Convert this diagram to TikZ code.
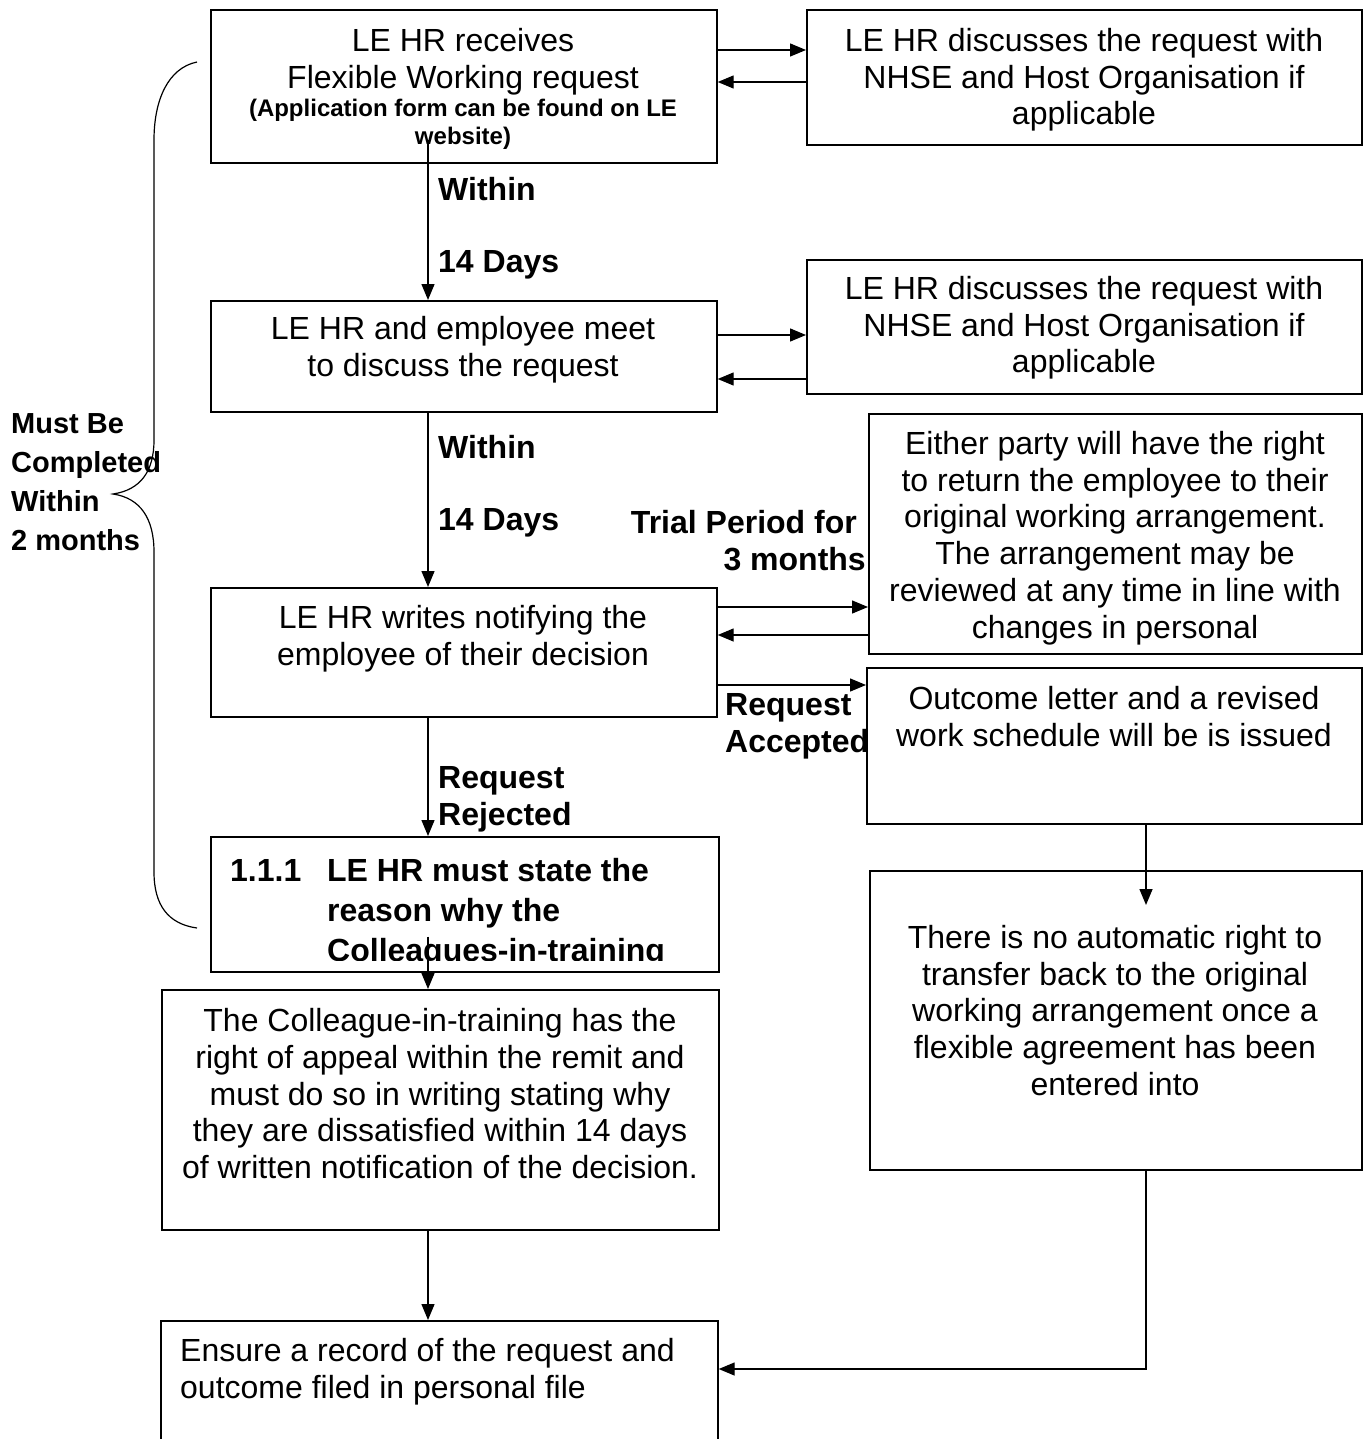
\documentclass[tikz,border=0pt]{standalone}
\usepackage{fontspec}
\setmainfont{Liberation Sans}
\usetikzlibrary{arrows.meta,calc}
\begin{document}
\begin{tikzpicture}[x=1pt,y=-1pt,
 box/.style={draw, line width=1.7pt, inner sep=0, anchor=north west},
 arr/.style={line width=1.4pt, -{Triangle[length=16pt,width=13pt]}},
 txt/.style={inner sep=0, align=center, font=\fontsize{32}{36.8}\selectfont, anchor=north},
 lbl/.style={inner sep=0, align=left, font=\fontsize{32}{36.8}\selectfont\bfseries, anchor=north west},
]
\useasboundingbox (0,0) rectangle (1362,1439);
% boxes
\node[box, minimum width=506pt, minimum height=153pt] (A) at (210,9) {};
\node[box, minimum width=555pt, minimum height=135pt] (R1) at (806,9) {};
\node[box, minimum width=506pt, minimum height=111pt] (B) at (210,300) {};
\node[box, minimum width=555pt, minimum height=134pt] (R2) at (806,259) {};
\node[box, minimum width=506pt, minimum height=129pt] (C) at (210,587) {};
\node[box, minimum width=493pt, minimum height=240pt] (R3) at (868,413) {};
\node[box, minimum width=495pt, minimum height=156pt] (R4) at (866,667) {};
\node[box, minimum width=508pt, minimum height=135pt] (D) at (210,836) {};
\node[box, minimum width=557pt, minimum height=240pt] (E) at (161,989) {};
\node[box, minimum width=492pt, minimum height=299pt] (R5) at (869,870) {};
\node[box, minimum width=557pt, minimum height=140pt] (F) at (160,1320) {};

% texts
\node[txt] (At) at (463,28) {LE HR receives\\Flexible Working request};
\node[txt, font=\fontsize{24}{28}\selectfont\bfseries] (As) at (463,99) {(Application form can be found on LE\\website)};
\node[txt] (R1t) at (1084,28) {LE HR discusses the request with\\NHSE and Host Organisation if\\applicable};
\node[txt] (Bt) at (463,316) {LE HR and employee meet\\to discuss the request};
\node[txt] (R2t) at (1084,276) {LE HR discusses the request with\\NHSE and Host Organisation if\\applicable};
\node[txt] (Ct) at (463,605) {LE HR writes notifying the\\employee of their decision};
\node[txt] (R3t) at (1115,431) {Either party will have the right\\to return the employee to their\\original working arrangement.\\The arrangement may be\\reviewed at any time in line with\\changes in personal};
\node[txt] (R4t) at (1114,686) {Outcome letter and a revised\\work schedule will be is issued};
\begin{scope}
\clip (210,836) rectangle (718,960);
\node[lbl, font=\fontsize{32}{40}\selectfont\bfseries] (Dt) at (230,858) {\makebox[97pt][l]{1.1.1}LE HR must state the\\\hspace*{97pt}reason why the\\\hspace*{97pt}Colleagues-in-training};
\end{scope}
\node[txt] (Et) at (440,1008) {The Colleague-in-training has the\\right of appeal within the remit and\\must do so in writing stating why\\they are dissatisfied within 14 days\\of written notification of the decision.};
\node[txt] (R5t) at (1115,925) {There is no automatic right to\\transfer back to the original\\working arrangement once a\\flexible agreement has been\\entered into};
\node[lbl, font=\fontsize{32}{36.8}\selectfont] (Ft) at (180,1338) {Ensure a record of the request and\\outcome filed in personal file};

% labels
\node[lbl] (L1) at (438,177) {Within};
\node[lbl] (L2) at (438,250) {14 Days};
\node[lbl] (L3) at (438,435) {Within};
\node[lbl] (L4) at (438,508) {14 Days};
\node[lbl] (L5) at (438,766) {Request\\Rejected};
\node[lbl, align=right, anchor=north east] (L6) at (866,510) {Trial Period for\hspace*{9pt}\\3 months};
\node[lbl] (L7) at (725,693) {Request\\Accepted};
\node[lbl, font=\fontsize{29}{39}\selectfont\bfseries] (L8) at (11,413) {Must Be\\Completed\\Within\\2 months};

% connectors
\coordinate (ax) at (428,0);
\coordinate (rx) at (1146,0);
\draw[arr] ($(A.south -| ax)+(0,-24)$) -- (B.north -| ax);
\draw[arr] (B.south -| ax) -- (C.north -| ax);
\draw[arr] (C.south -| ax) -- (D.north -| ax);
\draw[arr] ($(D.south -| ax)+(0,-36)$) -- (E.north -| ax);
\draw[arr] (E.south -| ax) -- (F.north -| ax);

\path ($(A.north east)+(0,41)$) coordinate (a1) ($(A.north east)+(0,73)$) coordinate (a2);
\draw[arr] (a1) -- (a1 -| R1.west);
\draw[arr] (a2 -| R1.west) -- (a2);
\path ($(B.north east)+(0,35)$) coordinate (b1) ($(B.north east)+(0,79)$) coordinate (b2);
\draw[arr] (b1) -- (b1 -| R2.west);
\draw[arr] (b2 -| R2.west) -- (b2);
\path ($(C.north east)+(0,20)$) coordinate (c1) ($(C.north east)+(0,48)$) coordinate (c2) ($(C.north east)+(0,98)$) coordinate (c3);
\draw[arr] (c1) -- (c1 -| R3.west);
\draw[arr] (c2 -| R3.west) -- (c2);
\draw[arr] (c3) -- (c3 -| R4.west);

\draw[arr] (R4.south -| rx) -- ($(R5.north -| rx)+(0,35)$);
\path ($(F.north east)+(0,49)$) coordinate (f1);
\draw[arr] (R5.south -| rx) |- (f1);

% brace
\draw[line width=1.2pt] (197,62) .. controls (168,68) and (154,100) .. (154,140) -- (154,440)
  .. controls (154,472) and (140,490) .. (113,494)
  .. controls (140,498) and (154,518) .. (154,552) -- (154,872)
  .. controls (154,905) and (168,924) .. (197,928);
\end{tikzpicture}
\end{document}
